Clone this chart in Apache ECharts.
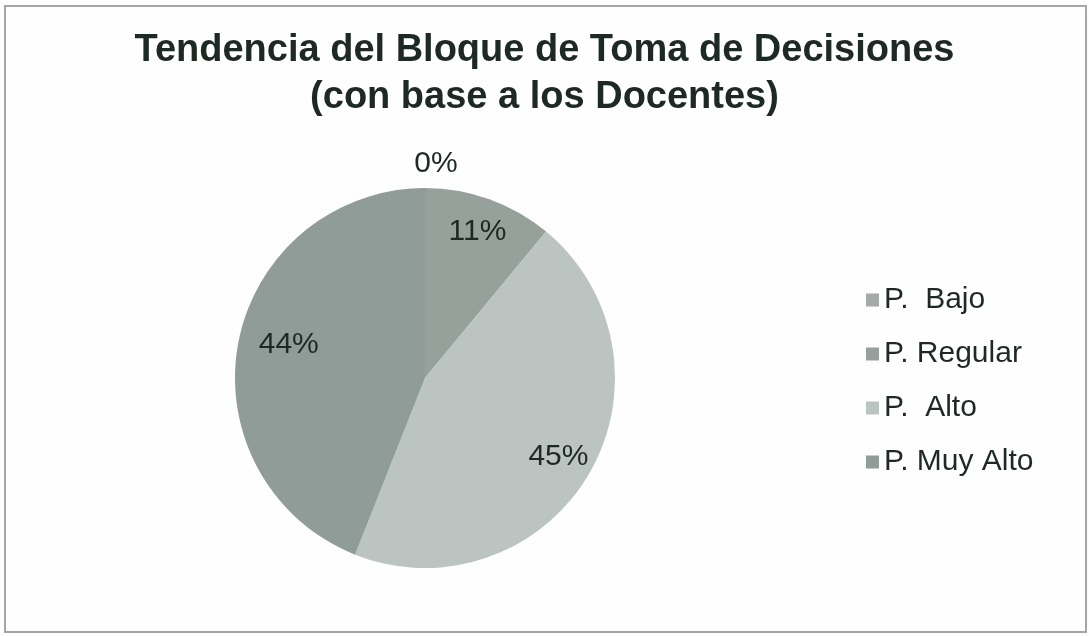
<!DOCTYPE html>
<html>
<head>
<meta charset="utf-8">
<script src="https://cdn.jsdelivr.net/npm/echarts@6/dist/echarts.min.js"></script>
<style>
  html, body { margin: 0; padding: 0; background: #ffffff; }
  #chart { width: 1089px; height: 636px; }
</style>
</head>
<body>
<div id="chart"></div>
<script>
// Chart content
const titleLines = ['Tendencia del Bloque de Toma de Decisiones', '(con base a los Docentes)'];
const categories = ['P.  Bajo', 'P. Regular', 'P.  Alto', 'P. Muy Alto'];
const percentages = [0, 11, 45, 44];
const sliceColors = ['#a4aba7', '#96a19c', '#bbc4c0', '#909c97'];

const textColor = '#1d2a24';
const center = [425, 378];
const outerR = 190;

const pieData = categories.map((name, i) => ({
  name: name,
  value: percentages[i],
  itemStyle: { color: sliceColors[i] }
}));

// Transparent ring carrying the value labels at ~80% of the radius
const labelData = categories.map((name, i) => ({
  name: name,
  value: percentages[i],
  label: percentages[i] === 0
    ? { position: 'outside' }
    : { position: 'inside' },
  labelLine: { show: false, length: 26, length2: 0 }
}));

const chart = echarts.init(document.getElementById('chart'), null, { renderer: 'canvas' });

chart.setOption({
  backgroundColor: '#fefefe',
  animation: false,
  title: {
    text: titleLines.join('\n'),
    left: 'center',
    top: 22,
    textStyle: {
      fontFamily: 'Liberation Sans, Arial, sans-serif',
      fontWeight: 'bold',
      fontSize: 38,
      lineHeight: 47,
      color: textColor
    }
  },
  legend: {
    orient: 'vertical',
    left: 866,
    top: 285,
    padding: 0,
    icon: 'rect',
    itemWidth: 13,
    itemHeight: 13,
    itemGap: 24,
    selectedMode: false,
    data: categories,
    textStyle: {
      fontFamily: 'Liberation Sans, Arial, sans-serif',
      fontSize: 30,
      lineHeight: 30,
      color: textColor
    }
  },
  graphic: [{
    type: 'rect',
    shape: { x: 5, y: 6, width: 1081, height: 626 },
    style: { fill: 'none', stroke: '#a2a7a4', lineWidth: 2 },
    silent: true
  }],
  series: [
    {
      type: 'pie',
      center: center,
      radius: [0, outerR],
      startAngle: 90,
      clockwise: true,
      label: { show: false },
      labelLine: { show: false },
      itemStyle: { borderWidth: 0 },
      emphasis: { disabled: true },
      data: pieData
    },
    {
      type: 'pie',
      center: center,
      radius: [outerR * 0.6, outerR],
      startAngle: 90,
      clockwise: true,
      silent: true,
      avoidLabelOverlap: false,
      itemStyle: { color: 'rgba(0,0,0,0)', borderWidth: 0 },
      emphasis: { disabled: true },
      label: {
        show: true,
        formatter: '{c}%',
        fontFamily: 'Liberation Sans, Arial, sans-serif',
        fontSize: 30,
        color: textColor
      },
      // small nudges for the zero-value label above the pie and the left-hand label
      labelLayout: function (params) {
        if (params.dataIndex === 0) return { align: 'center', dx: 16, dy: 2 };
        if (params.dataIndex === 3) return { dx: 16, dy: -4 };
        return {};
      },
      data: labelData
    }
  ]
});
</script>
</body>
</html>
